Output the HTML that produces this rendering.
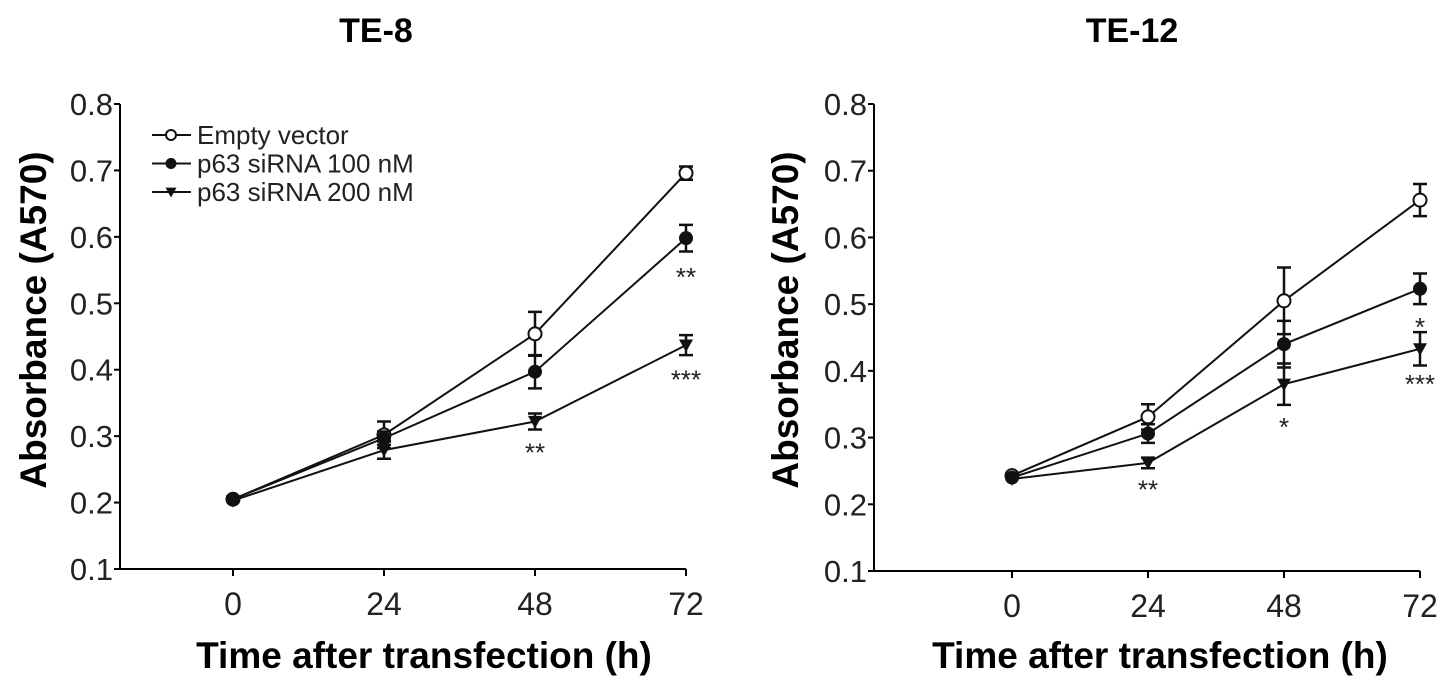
<!DOCTYPE html>
<html><head><meta charset="utf-8"><style>
body{margin:0;background:#fff}
svg{display:block;font-family:"Liberation Sans",Arial,sans-serif}
</style></head><body>
<svg id="chart" width="1441" height="689" viewBox="0 0 1441 689"></svg>
<script>
const timepoints=[0,24,48,72];
const yTicks=[0.1,0.2,0.3,0.4,0.5,0.6,0.7,0.8];
const seriesNames=["Empty vector","p63 siRNA 100 nM","p63 siRNA 200 nM"];
const te8Empty=[0.205,0.302,0.454,0.696];
const te8EmptyErr=[0,0.02,0.033,0.01];
const te8S100=[0.205,0.297,0.397,0.598];
const te8S100Err=[0,0.01,0.025,0.02];
const te8S200=[0.203,0.279,0.322,0.437];
const te8S200Err=[0,0.013,0.012,0.015];
const te12Empty=[0.243,0.331,0.505,0.656];
const te12EmptyErr=[0,0.019,0.05,0.024];
const te12S100=[0.240,0.306,0.440,0.523];
const te12S100Err=[0,0.014,0.035,0.023];
const te12S200=[0.238,0.262,0.380,0.433];
const te12S200Err=[0,0.008,0.031,0.025];
const te8Stars=[{t:72,v:0.547,s:"**"},{t:48,v:0.283,s:"**"},{t:72,v:0.393,s:"***"}];
const te12Stars=[{t:24,v:0.23,s:"**"},{t:48,v:0.323,s:"*"},{t:72,v:0.473,s:"*"},{t:72,v:0.388,s:"***"}];

const NS="http://www.w3.org/2000/svg";
const svg=document.getElementById('chart');
function mk(tag,attrs,parent){const e=document.createElementNS(NS,tag);for(const k in attrs)e.setAttribute(k,attrs[k]);(parent||svg).appendChild(e);return e;}

function panel(cfg){
  const g=mk('g',{});
  
  
  const yS=v=>cfg.y0-(v-0.1)/0.7*(cfg.y0-cfg.y1);
  const xS=t=>cfg.x0+t/24*cfg.step;
  const xEnd=xS(72);
  const ax=mk('path',{d:`M${cfg.ax},${yS(0.8)}V${cfg.y0}H${xEnd}`,stroke:'#000','stroke-width':2,fill:'none'},g);
  
  
  yTicks.forEach(v=>{
    mk('line',{x1:cfg.ax-6,x2:cfg.ax,y1:yS(v),y2:yS(v),stroke:'#000','stroke-width':2},g);
    const t=mk('text',{x:cfg.ax-7,y:yS(v)+11,'text-anchor':'end','font-size':31,fill:'#222'},g);
    t.textContent=v.toFixed(1);
    
    
  });
  timepoints.forEach(tp=>{
    mk('line',{x1:xS(tp),x2:xS(tp),y1:cfg.y0,y2:cfg.y0+7,stroke:'#000','stroke-width':2},g);
    const t=mk('text',{x:xS(tp),y:cfg.y0+46,'text-anchor':'middle','font-size':32,fill:'#222'},g);
    t.textContent=String(tp);
    
    
  });
  const ttl=mk('text',{x:cfg.titleX,y:42,'text-anchor':'middle','font-size':34,'font-weight':'bold'},g);
  ttl.textContent=cfg.title;
  
  
  const yt=mk('text',{transform:`translate(${cfg.ytX},${320}) rotate(-90)`,'text-anchor':'middle','font-size':37,'font-weight':'bold'},g);
  yt.textContent='Absorbance (A570)';
  
  
  const xt=mk('text',{x:cfg.xtX,y:668,'text-anchor':'middle','font-size':37,'font-weight':'bold'},g);
  xt.textContent='Time after transfection (h)';
  
  
  const kinds=['open','filled','tri'];
  cfg.series.forEach((s,si)=>{
    const vals=s[0],errs=s[1];
    const pts=vals.map((v,i)=>xS(timepoints[i])+','+yS(v)).join(' ');
    const pl=mk('polyline',{points:pts,fill:'none',stroke:'#111','stroke-width':2},g);
    
    
    vals.forEach((v,i)=>{
      const x=xS(timepoints[i]);
      if(errs[i]>0){
        const a=yS(v+errs[i]),b=yS(v-errs[i]);
        mk('path',{d:`M${x},${a}V${b}M${x-7},${a}H${x+7}M${x-7},${b}H${x+7}`,stroke:'#111','stroke-width':2.5,fill:'none'},g);
      }
      drawMarker(g,kinds[si],x,yS(v));
    });
  });
  cfg.stars.forEach(st=>{
    const t=mk('text',{x:xS(st.t),y:yS(st.v)+14,'text-anchor':'middle','font-size':26,fill:'#222'},g);
    t.textContent=st.s;
    
    
  });
  return g;
}
function drawMarker(g,kind,x,y,r){
  r=r||7;let m;
  if(kind==='open')m=mk('circle',{cx:x,cy:y,r:r-0.5,fill:'#fff',stroke:'#111','stroke-width':2},g);
  else if(kind==='filled')m=mk('circle',{cx:x,cy:y,r:r,fill:'#111'},g);
  else m=mk('path',{d:`M${x-r},${y-r*0.8}H${x+r}L${x},${y+r}Z`,fill:'#111'},g);
  
  
}
panel({name:'te8-panel',title:'TE-8',titleX:376,xtX:424,ytX:46,ax:120,x0:233,step:151,y0:569,y1:104,
  series:[[te8Empty,te8EmptyErr],[te8S100,te8S100Err],[te8S200,te8S200Err]],stars:te8Stars});
panel({name:'te12-panel',title:'TE-12',titleX:1132,xtX:1160,ytX:798,ax:874,x0:1012,step:136,y0:571,y1:104,
  series:[[te12Empty,te12EmptyErr],[te12S100,te12S100Err],[te12S200,te12S200Err]],stars:te12Stars});

const leg=mk('g',{});


['open','filled','tri'].forEach((k,i)=>{
  const y=135+i*28.5;
  mk('line',{x1:152,x2:191,y1:y,y2:y,stroke:'#111','stroke-width':2},leg);
  drawMarker(leg,k,171,y,5.5);
  const t=mk('text',{x:197,y:y+9,'font-size':26,fill:'#222'},leg);
  t.textContent=seriesNames[i];
  
  
});
</script>
</body></html>
